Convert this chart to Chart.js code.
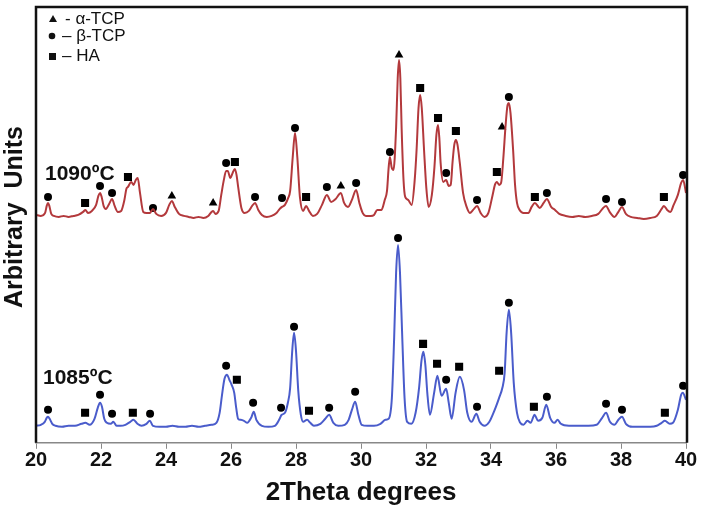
<!DOCTYPE html>
<html>
<head>
<meta charset="utf-8">
<script src="https://cdn.jsdelivr.net/npm/chart.js@4.4.0/dist/chart.umd.min.js"></script>
<style>
  html, body { margin: 0; padding: 0; background: #fff; }
  #xrdChart { display: block; }
</style>
</head>
<body>
<canvas id="xrdChart" width="701" height="511"></canvas>
<script>
// 1090 C scan (red), 2Theta vs intensity (arbitrary units, offset pattern)
const theta1090 = [20.00,20.15,20.28,20.33,20.37,20.41,20.47,20.55,20.70,20.85,21.00,21.15,21.30,21.45,21.52,21.60,21.72,21.85,21.92,21.97,22.02,22.08,22.15,22.25,22.34,22.42,22.52,22.62,22.72,22.78,22.83,22.93,23.00,23.07,23.13,23.20,23.30,23.40,23.50,23.60,23.70,23.85,24.00,24.10,24.18,24.27,24.40,24.55,24.70,24.85,25.00,25.15,25.30,25.40,25.45,25.52,25.62,25.70,25.78,25.85,25.90,25.98,26.05,26.12,26.17,26.22,26.32,26.42,26.55,26.65,26.74,26.84,26.95,27.10,27.25,27.40,27.50,27.57,27.66,27.76,27.82,27.90,27.97,28.04,28.12,28.22,28.31,28.40,28.52,28.65,28.80,28.95,29.08,29.22,29.38,29.48,29.60,29.72,29.85,29.95,30.05,30.15,30.30,30.40,30.50,30.63,30.73,30.80,30.85,30.89,30.94,31.00,31.08,31.13,31.17,31.21,31.25,31.31,31.36,31.45,31.56,31.65,31.71,31.77,31.82,31.87,31.94,32.01,32.08,32.18,32.26,32.32,32.37,32.41,32.45,32.53,32.62,32.70,32.76,32.82,32.87,32.92,32.97,33.04,33.14,33.25,33.35,33.45,33.57,33.68,33.80,33.92,34.05,34.12,34.18,34.25,34.31,34.38,34.45,34.51,34.55,34.60,34.68,34.74,34.80,34.88,35.00,35.15,35.25,35.35,35.50,35.62,35.72,35.85,35.97,36.10,36.30,36.50,36.70,36.90,37.10,37.30,37.45,37.54,37.65,37.80,37.92,38.03,38.15,38.30,38.50,38.70,38.90,39.10,39.25,39.32,39.42,39.52,39.62,39.75,39.85,39.91,40.00];
const counts1090 = [228,227,230,237,240,237,229,227,226,227,226,227,228,231,233,230,232,238,247,250,246,237,234,239,244,237,231,232,243,254,256,261,258,263,265,250,231,230,230,234,229,227,230,238,242,236,229,227,226,225,226,225,227,231,232,229,232,248,263,272,272,265,270,274,268,256,235,230,232,237,240,233,228,226,227,230,234,236,238,245,252,286,310,286,246,232,237,232,227,229,238,248,241,244,250,240,236,243,253,240,230,227,227,228,233,233,243,252,275,286,276,273,315,365,383,365,315,262,246,243,238,262,293,335,348,335,293,255,236,248,276,308,318,305,280,261,263,257,258,282,298,303,298,280,250,236,230,233,237,230,226,230,248,258,261,258,260,285,318,338,340,330,293,258,240,233,230,230,236,240,235,240,244,236,233,229,227,226,227,226,227,229,235,237,231,226,231,236,229,226,225,224,225,227,234,237,233,231,238,248,260,263,250];

// 1085 C scan (blue)
const theta1085 = [20.00,20.15,20.27,20.33,20.37,20.42,20.50,20.60,20.80,21.00,21.20,21.40,21.52,21.65,21.80,21.90,21.97,22.03,22.10,22.18,22.30,22.38,22.48,22.60,22.75,22.90,23.00,23.12,23.25,23.40,23.50,23.60,23.80,24.00,24.20,24.40,24.60,24.80,25.00,25.20,25.40,25.55,25.65,25.72,25.80,25.88,25.95,26.02,26.10,26.16,26.22,26.30,26.40,26.50,26.62,26.70,26.78,26.95,27.15,27.35,27.48,27.56,27.66,27.75,27.82,27.88,27.94,28.00,28.07,28.15,28.22,28.34,28.44,28.55,28.75,28.90,29.02,29.15,29.30,29.50,29.62,29.72,29.82,29.92,30.02,30.20,30.40,30.60,30.75,30.85,30.95,31.02,31.08,31.14,31.20,31.27,31.34,31.42,31.55,31.68,31.79,31.86,31.92,31.98,32.04,32.12,32.25,32.35,32.48,32.62,32.70,32.79,32.91,33.04,33.17,33.27,33.40,33.55,33.65,33.80,33.95,34.05,34.15,34.25,34.35,34.42,34.48,34.55,34.62,34.70,34.80,34.90,35.00,35.12,35.22,35.34,35.45,35.58,35.70,35.82,35.95,36.05,36.15,36.40,36.70,37.00,37.25,37.42,37.54,37.66,37.80,37.92,38.03,38.15,38.35,38.60,38.90,39.10,39.25,39.35,39.50,39.60,39.75,39.85,39.90,40.00];
const counts1085 = [17,18,21,25,26,24,19,17,16,17,17,19,20,18,24,35,40,36,24,20,19,21,17,17,18,21,23,19,17,19,22,17,16,16,17,16,16,17,16,17,18,20,30,47,64,68,63,58,50,35,24,23,22,20,25,31,23,17,16,17,23,28,30,40,55,90,110,92,52,28,21,23,20,17,19,24,28,20,17,18,23,33,41,28,18,17,17,19,23,24,45,105,170,198,170,105,45,21,19,30,56,82,91,78,50,28,50,67,47,54,40,24,50,66,53,30,21,29,21,17,21,28,36,45,55,70,110,133,110,60,30,20,18,22,20,28,22,25,38,25,20,23,19,17,17,17,18,25,30,21,18,23,26,19,16,16,16,17,20,22,19,20,33,48,50,43];

// phase markers above the peaks (2Theta, height) - 1090 C then 1085 C
const alphaTheta = [24.18,25.45,29.38,31.17,34.34];
const alphaHeight = [247,240,257,388,316];
const betaTheta = [20.37,21.97,22.34,23.60,25.85,26.74,27.57,27.97,28.95,29.85,30.89,32.62,33.57,34.55,35.72,37.54,38.03,39.91,
                   20.37,21.97,22.34,23.51,25.85,26.68,27.54,27.94,29.02,29.82,31.14,32.62,33.57,34.55,35.72,37.54,38.03,39.91];
const betaHeight = [246,257,250,235,280,246,245,315,256,260,291,270,243,346,250,244,241,268,
                    33,48,29,29,77,40,35,116,35,51,205,63,36,140,46,39,33,57];
const haTheta = [21.51,22.83,26.12,28.31,31.82,32.37,32.92,34.18,35.35,39.32,
                 21.51,22.98,26.18,28.40,31.91,32.34,33.02,34.25,35.32,39.35];
const haHeight = [240,266,281,246,355,325,312,271,246,246,
                  30,30,63,32,99,79,76,72,36,30];

const xTicks = [20,22,24,26,28,30,32,34,36,38,40];

const toPoints = (xs, ys) => xs.map((x, i) => ({ x: x, y: ys[i] }));

const framePlugin = {
    id: 'frame',
    afterDraw(chart) {
        const { ctx, chartArea: a } = chart;
        ctx.save();
        ctx.strokeStyle = '#111';
        ctx.lineWidth = 2.5;
        ctx.beginPath();
        ctx.moveTo(a.left, a.bottom);
        ctx.lineTo(a.left, a.top);
        ctx.lineTo(a.right + 1, a.top);
        ctx.lineTo(a.right + 1, a.bottom);
        ctx.stroke();
        ctx.restore();
    }
};

const labelsPlugin = {
    id: 'labels',
    afterDraw(chart) {
        const ctx = chart.ctx;
        ctx.save();
        ctx.fillStyle = '#111';

        // y axis title
        ctx.save();
        ctx.translate(15, 217);
        ctx.rotate(-Math.PI / 2);
        ctx.textAlign = 'center';
        ctx.textBaseline = 'middle';
        ctx.font = 'bold 25px "Liberation Sans", Arial, sans-serif';
        ctx.fillText('Arbitrary  Units', 0, 0);
        ctx.restore();

        ctx.textBaseline = 'alphabetic';
        ctx.font = 'bold 21px "Liberation Sans", Arial, sans-serif';
        ctx.fillText('1090ºC', 45, 180);
        ctx.fillText('1085ºC', 43, 384);

        // legend
        ctx.font = '17px "Liberation Sans", Arial, sans-serif';
        ctx.textBaseline = 'middle';
        ctx.fillText('- \u03b1-TCP', 65, 19);
        ctx.fillText('\u2013 \u03b2-TCP', 62, 36);
        ctx.fillText('\u2013 HA', 62, 56);
        ctx.beginPath();
        ctx.moveTo(53, 15);
        ctx.lineTo(57, 22);
        ctx.lineTo(49, 22);
        ctx.closePath();
        ctx.fill();
        ctx.beginPath();
        ctx.arc(52, 36, 3.3, 0, Math.PI * 2);
        ctx.fill();
        ctx.fillRect(49, 53, 7, 7);
        ctx.restore();
    }
};

new Chart(document.getElementById('xrdChart'), {
    type: 'scatter',
    data: {
        datasets: [
            {
                label: '1090ºC',
                data: toPoints(theta1090, counts1090),
                showLine: true,
                borderColor: '#b3393c',
                borderWidth: 2,
                pointRadius: 0,
                cubicInterpolationMode: 'monotone'
            },
            {
                label: '1085ºC',
                data: toPoints(theta1085, counts1085),
                showLine: true,
                borderColor: '#4a5ccb',
                borderWidth: 2,
                pointRadius: 0,
                cubicInterpolationMode: 'monotone'
            },
            {
                label: 'α-TCP',
                data: toPoints(alphaTheta, alphaHeight),
                pointStyle: 'triangle',
                pointRadius: 5,
                backgroundColor: '#000',
                borderWidth: 0
            },
            {
                label: 'β-TCP',
                data: toPoints(betaTheta, betaHeight),
                pointStyle: 'circle',
                pointRadius: 4,
                backgroundColor: '#000',
                borderWidth: 0
            },
            {
                label: 'HA',
                data: toPoints(haTheta, haHeight),
                pointStyle: 'rect',
                pointRadius: 5.7,
                backgroundColor: '#000',
                borderWidth: 0
            }
        ]
    },
    options: {
        responsive: false,
        animation: false,
        layout: { padding: { left: 36, right: 15, top: 7, bottom: 3 } },
        plugins: {
            legend: { display: false },
            tooltip: { enabled: false }
        },
        scales: {
            x: {
                type: 'linear',
                min: 20,
                max: 40,
                afterBuildTicks: (scale) => { scale.ticks = xTicks.map(v => ({ value: v })); },
                grid: { display: true, drawOnChartArea: false, drawTicks: true, tickLength: 6, color: '#888' },
                border: { display: true, color: '#888', width: 1.5 },
                ticks: {
                    padding: 0,
                    color: '#111',
                    font: { family: '"Liberation Sans", Arial, sans-serif', size: 20, weight: 'bold' }
                },
                title: {
                    display: true,
                    text: '2Theta degrees',
                    color: '#111',
                    padding: { top: 4, bottom: 0 },
                    font: { family: '"Liberation Sans", Arial, sans-serif', size: 26, weight: 'bold' }
                }
            },
            y: {
                min: 0,
                max: 436,
                ticks: { display: false },
                grid: { display: false, drawTicks: false },
                border: { display: false },
                title: { display: false }
            }
        }
    },
    plugins: [framePlugin, labelsPlugin]
});
</script>
</body>
</html>
